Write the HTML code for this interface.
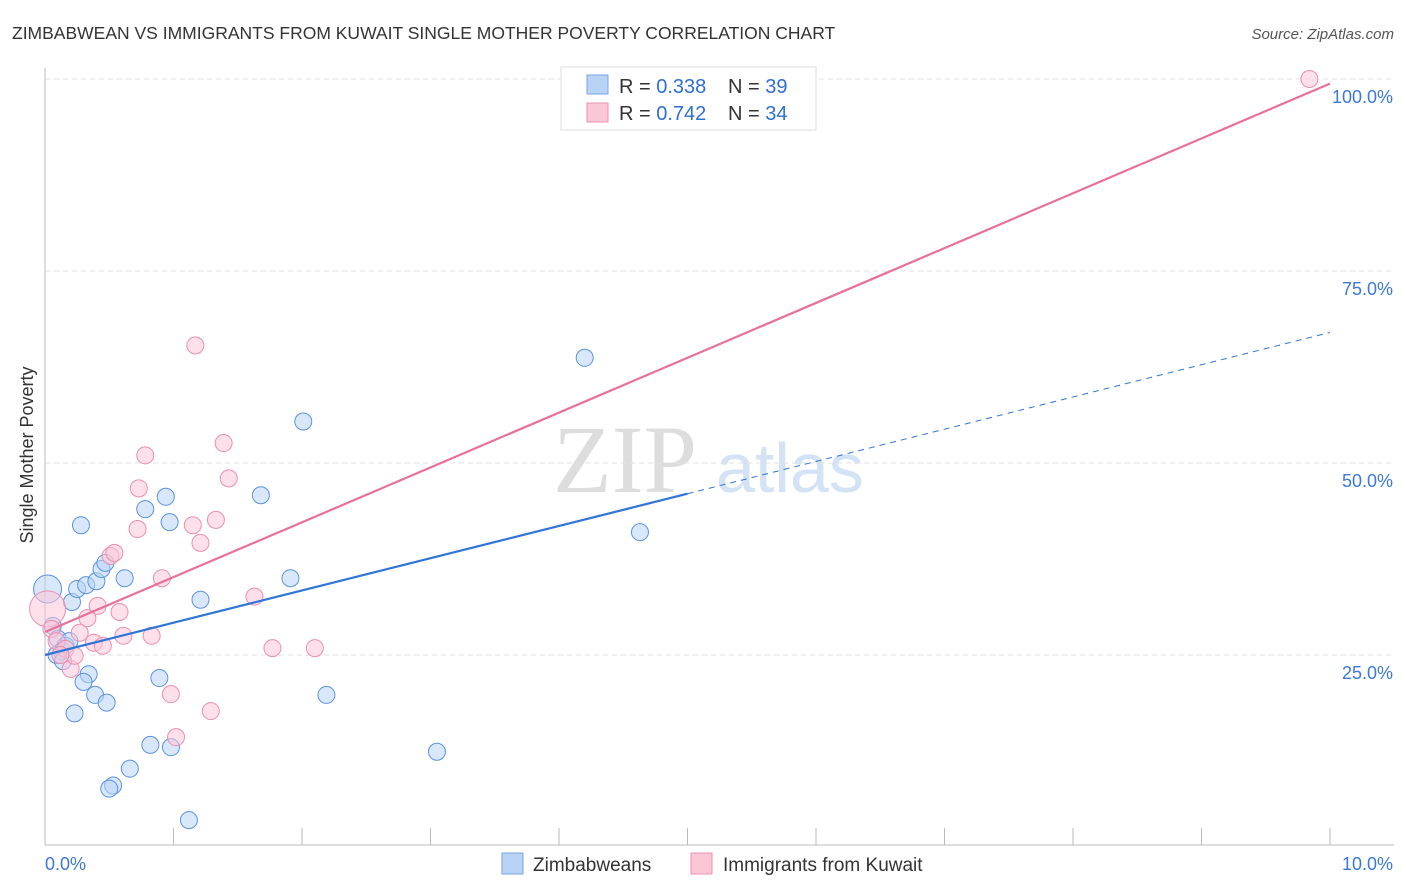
<!DOCTYPE html>
<html><head><meta charset="utf-8"><style>
body{margin:0;background:#fff;font-family:"Liberation Sans",sans-serif;}
svg{display:block}
</style></head><body>
<svg id="c" width="1406" height="892">
<text x="12" y="39" font-size="17.5" fill="#333">ZIMBABWEAN VS IMMIGRANTS FROM KUWAIT SINGLE MOTHER POVERTY CORRELATION CHART</text>
<text x="1394" y="39" font-size="15" fill="#555" font-style="italic" text-anchor="end">Source: ZipAtlas.com</text>
<text x="33" y="455" font-size="18" fill="#333" text-anchor="middle" transform="rotate(-90 33 455)">Single Mother Poverty</text>
<text x="553" y="492" font-size="96" fill="#ddd" font-family="Liberation Serif,serif">ZIP</text>
<text x="716" y="492" font-size="70" fill="#d3e2f4">atlas</text>
<g id="grid"></g><g id="marks"></g>
<g>
<rect x="561" y="67" width="255" height="63" fill="#fff" stroke="#ddd"/>
<rect x="587" y="75" width="21" height="19" fill="#b8d3f5" stroke="#7aa7e0"/>
<rect x="587" y="103" width="21" height="19" fill="#fbc7d7" stroke="#ec8fb0"/>
<text x="619" y="93" font-size="20" fill="#333">R = <tspan fill="#2f6fd0">0.338</tspan></text>
<text x="728" y="93" font-size="20" fill="#333">N = <tspan fill="#2f6fd0">39</tspan></text>
<text x="619" y="120" font-size="20" fill="#333">R = <tspan fill="#2f6fd0">0.742</tspan></text>
<text x="728" y="120" font-size="20" fill="#333">N = <tspan fill="#2f6fd0">34</tspan></text>
</g>
<g>
<rect x="502" y="853" width="21" height="21" fill="#b8d3f5" stroke="#7aa7e0"/>
<text x="533" y="871" font-size="19" fill="#333">Zimbabweans</text>
<rect x="691" y="853" width="21" height="21" fill="#fbc7d7" stroke="#ec8fb0"/>
<text x="723" y="871" font-size="19" fill="#333">Immigrants from Kuwait</text>
</g>
</svg>
<script>
const yTicks=[25,50,75,100];
const yTickLabels=["25.0%","50.0%","75.0%","100.0%"];
const xTicks=[0,1,2,3,4,5,6,7,8,9,10];
const blueX=[0.02,0.06,0.1,0.13,0.16,0.19,0.09,0.21,0.25,0.32,0.4,0.44,0.47,0.62,0.28,0.78,0.94,0.97,1.21,1.68,1.91,2.01,4.2,4.63,0.89,0.34,0.30,0.39,0.48,0.23,0.82,0.98,0.66,0.53,0.5,1.12,2.19,3.05,0.14];
const blueY=[33.6,28.8,27.1,25.5,26.2,26.8,25.0,31.9,33.6,34.1,34.6,36.2,37.0,35.0,41.9,44.0,45.6,42.3,32.2,45.8,35.0,55.4,63.7,41.0,22.0,22.5,21.5,19.8,18.8,17.4,13.3,13.0,10.2,8.0,7.6,3.5,19.8,12.4,24.2];
const pinkX=[0.02,0.05,0.09,0.16,0.2,0.23,0.27,0.33,0.38,0.41,0.45,0.51,0.54,0.58,0.61,0.72,0.73,0.78,0.83,0.91,0.98,1.02,1.15,1.17,1.21,1.29,1.33,1.39,1.43,1.63,1.77,2.1,9.84,0.12];
const pinkY=[31.0,28.4,26.8,25.8,23.2,24.9,27.9,29.8,26.6,31.4,26.2,37.9,38.3,30.6,27.5,41.4,46.7,51.0,27.5,35.0,19.9,14.3,41.9,65.3,39.6,17.7,42.6,52.6,48.0,32.6,25.9,25.9,100.0,25.0];
const pinkLine=[0,28.0,10,99.4];
const blueLine=[0,25.0,5.0,46.0,10,67.0];
const X=v=>45+v*128.5, Y=v=>847-v*7.68;
const ns="http://www.w3.org/2000/svg";
function mk(t,a,p){const e=document.createElementNS(ns,t);for(const k in a)e.setAttribute(k,a[k]);p.appendChild(e);return e;}
const g=document.getElementById('grid'), m=document.getElementById('marks');
yTicks.forEach((t,i)=>{
 const l=mk('line',{x1:45,x2:1394,y1:Y(t),y2:Y(t),stroke:'#e2e2e2','stroke-dasharray':'5,4'},g);
 
 
 const tx=mk('text',{x:1393,y:Y(t)+24,'font-size':18,fill:'#3b78d8','text-anchor':'end'},g);
 tx.textContent=yTickLabels[i];
 
 
});
mk('line',{x1:45,x2:1394,y1:845,y2:845,stroke:'#bbb'},g);
mk('line',{x1:45,x2:45,y1:68,y2:845,stroke:'#bbb'},g);
xTicks.forEach(t=>{
 const l=mk('line',{x1:X(t),x2:X(t),y1:828,y2:845,stroke:'#bbb'},g);
 
 
});
const x0=mk('text',{x:45,y:870,'font-size':18,fill:'#3b78d8'},g);x0.textContent='0.0%';


const x1=mk('text',{x:1393,y:870,'font-size':18,fill:'#3b78d8','text-anchor':'end'},g);x1.textContent='10.0%';


function dots(xs,ys,fill,stroke,name){
 xs.forEach((x,i)=>{
  const big=i===0&&x<0.05;
  const c=mk('circle',{cx:X(x),cy:Y(ys[i]),r:big?(name==='pink-point'?18:14):8.5,fill:fill,'fill-opacity':0.55,stroke:stroke,'stroke-width':1},m);
  
  
 });
}
dots(blueX,blueY,'#b8d3f5','#5b93e0','blue-point');
dots(pinkX,pinkY,'#fbc7d7','#ec8fb0','pink-point');
const bl=mk('line',{x1:X(blueLine[0]),y1:Y(blueLine[1]),x2:X(blueLine[2]),y2:Y(blueLine[3]),stroke:'#2f74d6','stroke-width':2.2},m);


const bd=mk('line',{x1:X(blueLine[2]),y1:Y(blueLine[3]),x2:X(blueLine[4]),y2:Y(blueLine[5]),stroke:'#2f74d6','stroke-width':1,'stroke-dasharray':'6,5'},m);


const pl=mk('line',{x1:X(pinkLine[0]),y1:Y(pinkLine[1]),x2:X(pinkLine[2]),y2:Y(pinkLine[3]),stroke:'#e8709a','stroke-width':2.2},m);


</script>
</body></html>
